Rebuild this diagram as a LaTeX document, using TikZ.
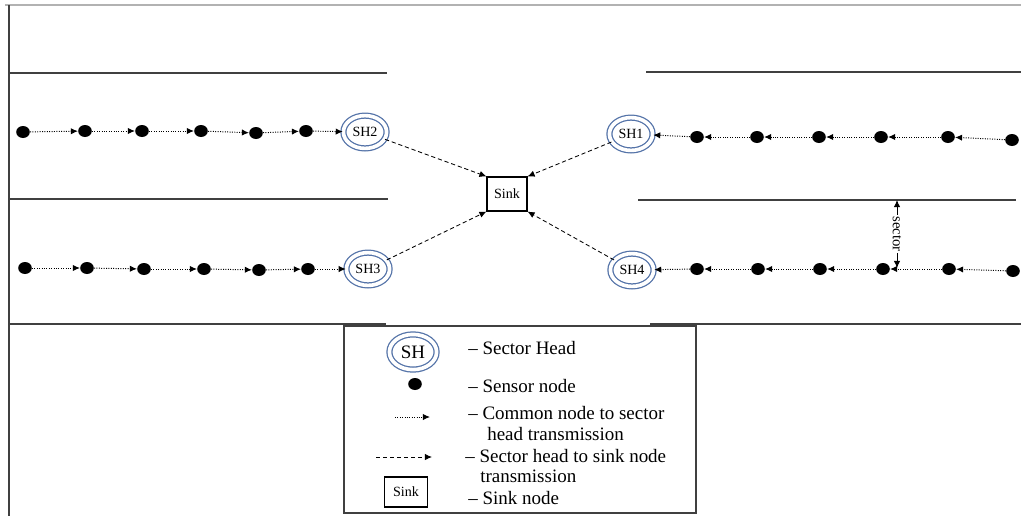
\documentclass[tikz,border=0pt]{standalone}
\usepackage{fontspec}
\setmainfont{Liberation Serif}
\usetikzlibrary{shapes.geometric,arrows.meta,positioning}

\definecolor{shblue}{RGB}{84,115,168}
\definecolor{linegray}{RGB}{64,64,64}

\begin{document}
\begin{tikzpicture}[x=0.025cm,y=-0.025cm,
    sensor/.style={ellipse,fill=black,inner sep=0pt,minimum width=0.34cm,minimum height=0.3cm},
    head/.style={ellipse,draw=shblue,double=white,double distance=2.6pt,line width=0.9pt,
        minimum width=1.08cm,minimum height=0.82cm,inner sep=1pt,font=\rmfamily\fontsize{10}{12}\selectfont},
    sinkbox/.style={draw,line width=0.8pt,minimum width=1cm,minimum height=0.85cm,
        inner sep=1pt,font=\rmfamily\fontsize{10}{12}\selectfont},
    senslink/.style={densely dotted,line width=0.7pt,-{Latex[length=5pt,width=4.5pt]}},
    headlink/.style={dash pattern=on 3pt off 2pt,line width=0.6pt,-{Latex[length=5pt,width=4.5pt]}},
    sectorline/.style={draw=linegray,line width=0.8pt},
    legtext/.style={anchor=west,inner sep=0pt,font=\rmfamily\fontsize{13.5}{16}\selectfont}]

            \useasboundingbox (0,0) rectangle (1021,516);

            % frame
            \draw[gray!60,line width=1.2pt] (5,5) -- (1021,5);
            \draw[sectorline] (9,5) -- (9,516);

            % sector borders
            \draw[sectorline] (9,73) -- (387,73);
            \draw[sectorline] (9,199) -- (388,199);
            \draw[sectorline] (9,324) -- (386,324);
            \draw[sectorline] (646,72) -- (1021,72);
            \draw[sectorline] (638,200) -- (1016,200);
            \draw[sectorline] (650,324) -- (1021,324);

            % sink and sector heads
            \node[sinkbox] (sink) at (507,194) {Sink};
            \node[head] (SH2) at (365,132) {SH2};
            \node[head] (SH3) at (368,269) {SH3};
            \node[head] (SH1) at (631,134) {SH1};
            \node[head] (SH4) at (632,270) {SH4};

            % left sectors
            \foreach \x/\y [count=\i] in {23/132,85/131,142/131,201/131,256/133,306/131}
                \node[sensor] (a\i) at (\x,\y) {};
            \foreach \x/\y [count=\i] in {25/268,87/268,144/269,204/269,259/270,308/269}
                \node[sensor] (b\i) at (\x,\y) {};
            \foreach \i/\j in {1/2,2/3,3/4,4/5,5/6} {
                \draw[senslink] (a\i) -- (a\j);
                \draw[senslink] (b\i) -- (b\j);
            }
            \draw[senslink] (a6) -- (SH2);
            \draw[senslink] (b6) -- (SH3);

            % right sectors
            \foreach \x/\y [count=\i] in {697/137,757/137,819/137,881/137,948/137,1012/140}
                \node[sensor] (c\i) at (\x,\y) {};
            \foreach \x/\y [count=\i] in {697/269,758/269,820/269,883/269,949/269,1013/271}
                \node[sensor] (d\i) at (\x,\y) {};
            \foreach \i/\j in {1/2,2/3,3/4,4/5,5/6} {
                \draw[senslink] (c\j) -- (c\i);
                \draw[senslink] (d\j) -- (d\i);
            }
            \draw[senslink] (c1) -- (SH1);
            \draw[senslink] (d1) -- (SH4);

            % heads to sink
            \draw[headlink] (SH2) -- (sink.north west);
            \draw[headlink] (SH1) -- (sink.north east);
            \draw[headlink] (SH3) -- (sink.south west);
            \draw[headlink] (SH4) -- (sink.south east);

            % sector width
            \coordinate (sectop) at (897,200);
            \coordinate (secbot) at (897,268);
            \draw[{Latex[length=5pt,width=4.5pt]}-{Latex[length=5pt,width=4.5pt]},line width=0.6pt]
                (sectop) -- node[rotate=-90,fill=white,inner sep=1pt,font=\rmfamily\fontsize{10.5}{12}\selectfont] {sector} (secbot);

            % legend
            \draw[sectorline] (344,326) rectangle (696,513);
            \node[head,minimum width=1.18cm,minimum height=0.88cm,font=\rmfamily\fontsize{13.5}{16}\selectfont] (legSH) at (413,352) {SH};
            \node[legtext] (legSHtext) at (468,348) {-- Sector Head};
            \node[sensor] (legdot) at (415,384) {};
            \node[legtext] (legdottext) at (468,386) {-- Sensor node};
            \coordinate (ca) at (395,417);
            \coordinate (cb) at (430,417);
            \draw[senslink] (ca) -- (cb);
            \node[legtext] (legsenstext) at (468,413) {-- Common node to sector};
            \node[legtext] (legsenstextb) at (487,434) {head transmission};
            \coordinate (da) at (376,457);
            \coordinate (db) at (432,457);
            \draw[headlink] (da) -- (db);
            \node[legtext] (legheadtext) at (465,456) {-- Sector head to sink node};
            \node[legtext] (legheadtextb) at (480,476) {transmission};
            \node[sinkbox,minimum width=1.08cm,minimum height=0.75cm] (legsink) at (406,492) {Sink};
            \node[legtext] (legsinktext) at (468,498) {-- Sink node};

        \end{tikzpicture}
\end{document}
